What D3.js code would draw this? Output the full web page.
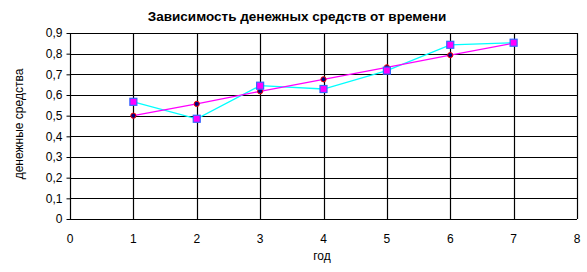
<!DOCTYPE html>
<html>
<head>
<meta charset="utf-8">
<script src="https://cdn.jsdelivr.net/npm/d3@7"></script>
<style>
  body { margin: 0; background: #fff; }
  text { font-family: "Liberation Sans", Arial, sans-serif; fill: #000; }
</style>
</head>
<body>
<div id="chart"></div>
<script>
// years and the two series
var years = [1, 2, 3, 4, 5, 6, 7];
var trend = [0.5, 0.557, 0.618, 0.676, 0.734, 0.793, 0.851];
var actual = [0.567, 0.485, 0.645, 0.629, 0.718, 0.843, 0.853];
var xTicks = [0, 1, 2, 3, 4, 5, 6, 7, 8];
var yTicks = [0, 0.1, 0.2, 0.3, 0.4, 0.5, 0.6, 0.7, 0.8, 0.9];

var width = 587, height = 272;
var plotLeft = 70, plotRight = 577, plotTop = 33, plotBottom = 219;

var svg = d3.select("#chart").append("svg")
  .attr("width", width)
  .attr("height", height);

var x = d3.scaleLinear().domain([0, 8]).range([plotLeft, plotRight]);
var y = d3.scaleLinear().domain([0, 0.9]).range([plotBottom, plotTop]);

// grid
svg.append("g").selectAll("line")
  .data(yTicks).enter().append("line")
  .attr("x1", plotLeft).attr("x2", plotRight)
  .attr("y1", function(d) { return Math.round(y(d)) + 0.5; })
  .attr("y2", function(d) { return Math.round(y(d)) + 0.5; })
  .attr("stroke", "#000").attr("stroke-width", 1.2);

svg.append("g").selectAll("line")
  .data(xTicks).enter().append("line")
  .attr("y1", plotTop).attr("y2", plotBottom)
  .attr("x1", function(d) { return Math.round(x(d)) + 0.5; })
  .attr("x2", function(d) { return Math.round(x(d)) + 0.5; })
  .attr("stroke", "#000").attr("stroke-width", 1.2);

// y axis ticks + labels
var yAxis = d3.axisLeft(y).tickValues(yTicks).tickSize(4).tickPadding(4)
  .tickFormat(function(d) { return d === 0 ? "0" : d3.format(".1f")(d).replace(".", ","); });
var gy = svg.append("g").attr("transform", "translate(" + (plotLeft + 0.5) + ",0)").call(yAxis);
gy.select(".domain").remove();
gy.selectAll("text").attr("font-size", 12).attr("font-family", "Liberation Sans, Arial, sans-serif");

// x labels
svg.append("g").selectAll("text")
  .data(xTicks).enter().append("text")
  .attr("x", function(d) { return x(d); })
  .attr("y", 243)
  .attr("text-anchor", "middle")
  .attr("font-size", 12)
  .text(function(d) { return d; });

var line = d3.line()
  .x(function(d, i) { return x(years[i]); })
  .y(function(d) { return y(d); });

svg.append("path").datum(actual)
  .attr("d", line).attr("fill", "none")
  .attr("stroke", "#00ffff").attr("stroke-width", 1.3);

svg.append("path").datum(trend)
  .attr("d", line).attr("fill", "none")
  .attr("stroke", "#ff00ff").attr("stroke-width", 1.3);

svg.append("g").selectAll("circle")
  .data(trend).enter().append("circle")
  .attr("cx", function(d, i) { return x(years[i]); })
  .attr("cy", function(d) { return y(d); })
  .attr("r", 2.6)
  .attr("fill", "#000080").attr("stroke", "#ff0000").attr("stroke-width", 1);

svg.append("g").selectAll("rect")
  .data(actual).enter().append("rect")
  .attr("x", function(d, i) { return x(years[i]) - 3.5; })
  .attr("y", function(d) { return y(d) - 3.5; })
  .attr("width", 7).attr("height", 7)
  .attr("fill", "#ff00ff").attr("stroke", "#3366ff").attr("stroke-width", 1.2);

// titles
svg.append("text")
  .attr("x", 297).attr("y", 21)
  .attr("text-anchor", "middle")
  .attr("font-size", 13.5).attr("font-weight", "bold")
  .text("Зависимость денежных средств от времени");

svg.append("text")
  .attr("x", 322).attr("y", 260)
  .attr("text-anchor", "middle")
  .attr("font-size", 12)
  .text("год");

svg.append("text")
  .attr("transform", "translate(23,124) rotate(-90)")
  .attr("text-anchor", "middle")
  .attr("font-size", 12)
  .text("денежные средства");
</script>
</body>
</html>
